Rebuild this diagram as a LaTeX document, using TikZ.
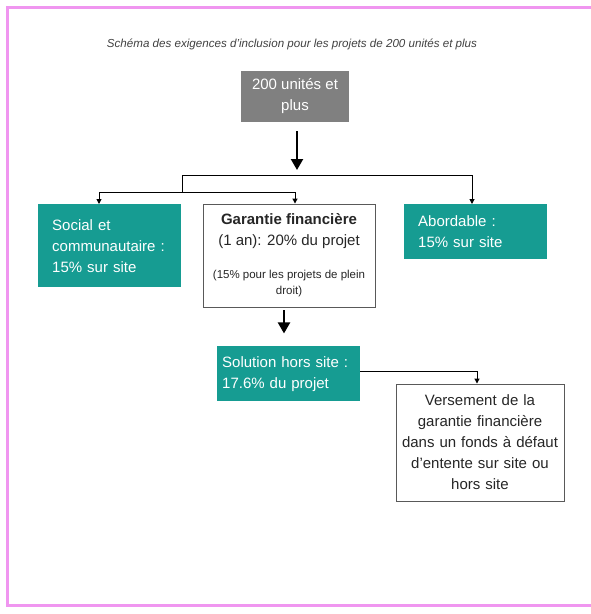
\documentclass[tikz,border=0pt]{standalone}
\usepackage{fontspec}
\setmainfont{Liberation Sans}
\usepackage{xcolor}
\usetikzlibrary{positioning,arrows.meta}

\definecolor{tealfill}{RGB}{22,156,146}
\definecolor{greyfill}{RGB}{128,128,128}
\definecolor{framepink}{RGB}{240,150,240}

\begin{document}
\begin{tikzpicture}[x=1pt, y=-1pt,
  every node/.style={font=\fontsize{15}{21}\selectfont, inner sep=0pt},
  box/.style={draw=gray!70!black, line width=0.9pt, fill=white, align=center, text=black!85},
  tealbox/.style={fill=tealfill, text=white, align=left, anchor=north west},
  greybox/.style={fill=greyfill, text=white, align=center},
  link/.style={draw, line width=1pt, -{Triangle[length=5pt,width=5pt]}},
  bigarrow/.style={draw, line width=2.2pt, -{Triangle[length=11pt,width=12pt]}}]
  \useasboundingbox (0,0) rectangle (590,614);
  \draw[framepink, line width=3pt] (600,7) -- (7,7) -- (7,605) -- (600,605);

  \node[font=\fontsize{11.6}{14}\selectfont\itshape, text=black!75] (title) at (292,44)
    {Schéma des exigences d'inclusion pour les projets de 200 unités et plus};
  \node[greybox, minimum width=108pt, minimum height=51pt] (top) at (295,96.5)
    {200 unités et\\plus};

  \node[tealbox, minimum width=143pt, minimum height=83pt, text width=115pt, inner xsep=14pt] (social) at (38,204)
    {Social et\\communautaire :\\15\% sur site};
  \node[box, minimum width=172pt, minimum height=103pt] (garantie) at (289,255.5)
    {\textbf{Garantie financière}\\(1 an): 20\% du projet\\[12pt]{\fontsize{11.5}{15}\selectfont (15\% pour les projets de plein}\\[-5pt]{\fontsize{11.5}{15}\selectfont droit)}};
  \node[tealbox, minimum width=143pt, minimum height=55pt, text width=115pt, inner xsep=14pt] (abord) at (404,204)
    {Abordable :\\15\% sur site};
  \node[tealbox, minimum width=143pt, minimum height=55pt, text width=133pt, inner xsep=5pt] (solution) at (217,346)
    {Solution hors site :\\17.6\% du projet};
  \node[box, minimum width=168pt, minimum height=117pt, text width=160pt] (versement) at (480,442.5)
    {Versement de la\\garantie financière\\dans un fonds à défaut\\d'entente sur site ou\\hors site};

  % branches
  \coordinate (busL) at (182,175);
  \coordinate (busM) at (297,175);
  \coordinate (busR) at (472,175);
  \coordinate (subL) at (99,192);
  \coordinate (subR) at (295,192);
  \draw[bigarrow] ([xshift=2pt,yshift=-9pt]top.south) -- ([yshift=5pt]busM);
  \draw[line width=1pt] (busL) -- (busR);
  \draw[line width=1pt] (busL) -- (busL |- subL);
  \draw[line width=1pt] (subL) -- (subR);
  \draw[link] (subL) -- (subL |- social.north);
  \draw[link] (subR) -- (subR |- garantie.north);
  \draw[link] (busR) -- (busR |- abord.north);

  \draw[bigarrow] ([xshift=-5pt,yshift=-3pt]garantie.south) -- ++(0,23);
  \draw[link] ([yshift=2.5pt]solution.east) -| ([xshift=-3pt]versement.north);
\end{tikzpicture}
\end{document}
